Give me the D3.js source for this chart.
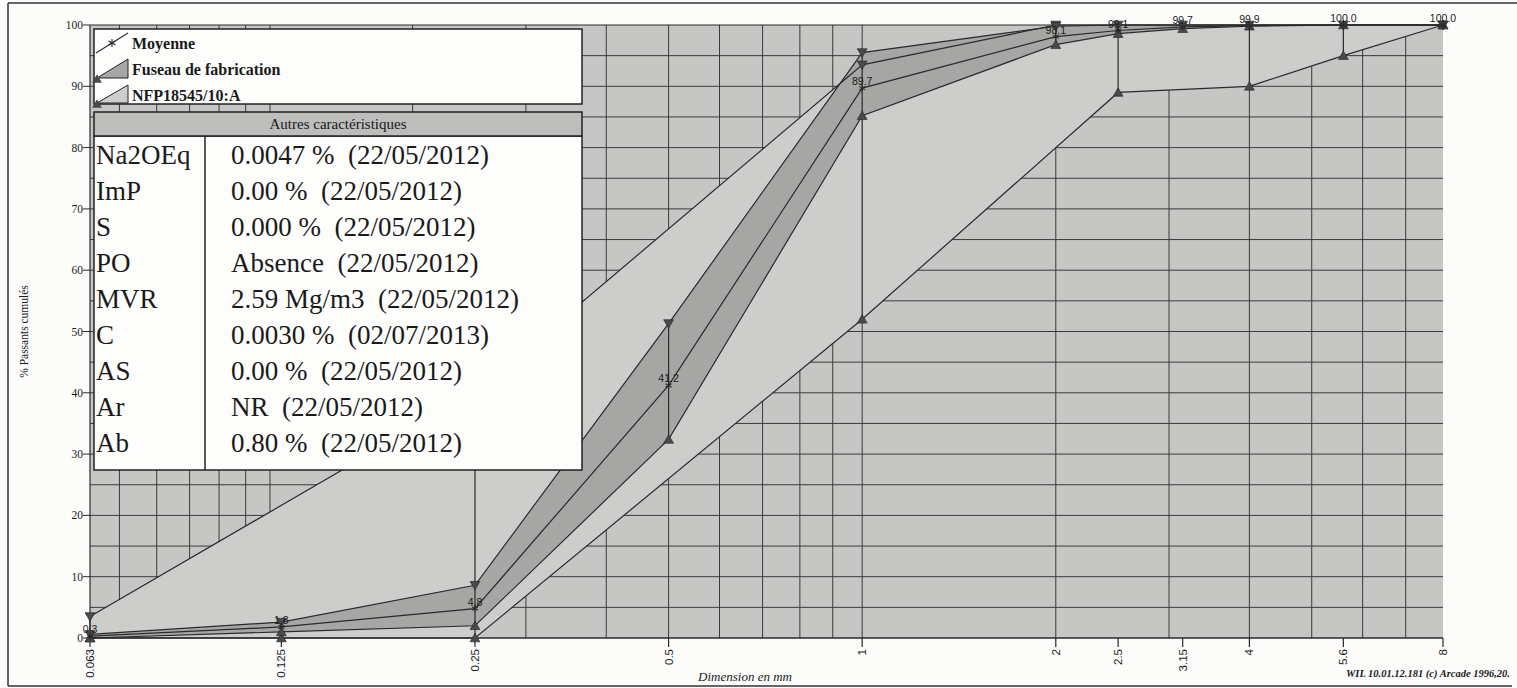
<!DOCTYPE html>
<html>
<head>
<meta charset="utf-8">
<script src="https://cdn.jsdelivr.net/npm/d3@7/dist/d3.min.js"></script>
<style>
  html, body { margin: 0; padding: 0; background: #fcfcfb; }
  svg { display: block; }
  text { font-family: "Liberation Serif", "Times New Roman", serif; fill: #1a1a1a; }
  .sans { font-family: "Liberation Sans", Arial, sans-serif; }
</style>
</head>
<body>
<svg id="chart" width="1517" height="688"></svg>
<script>
// tamis (mm) et % passants cumulés
var sieves = [0.063, 0.125, 0.25, 0.5, 1, 2, 2.5, 3.15, 4, 5.6, 8];
var moyenne = [0.3, 1.8, 4.8, 41.2, 89.7, 98.1, 99.1, 99.7, 99.9, 100.0, 100.0];
var fuseauMax = [0.6, 2.6, 8.6, 51.3, 95.5, 99.8, 100, 100, 100, 100, 100];
var fuseauMin = [0, 1.0, 2.0, 32.4, 85.2, 96.8, 98.6, 99.4, 99.8, 100, 100];

// fuseau NFP18545/10:A
var nfpMaxSizes = [0.063, 0.25, 1, 2, 8];
var nfpMax = [3.5, 40, 93.5, 100, 100];
var nfpMinSizes = [0.063, 0.125, 0.25, 1, 2.5, 4, 5.6, 8];
var nfpMin = [0, 0, 0, 52, 89, 90, 95, 100];

var xTicks = [0.063, 0.125, 0.25, 0.5, 1, 2, 2.5, 3.15, 4, 5.6, 8];
var xTickLabels = ['0.063', '0.125', '0.25', '0.5', '1', '2', '2.5', '3.15', '4', '5.6', '8'];
var gridX = [0.07, 0.08, 0.09, 0.1, 0.11, 0.12, 0.2, 0.3, 0.4, 0.5, 0.6, 0.7, 0.8, 0.9, 1, 2, 3, 4, 5, 6, 7];
var yTicks = [0, 10, 20, 30, 40, 50, 60, 70, 80, 90, 100];
var gridY = [5, 10, 15, 20, 25, 30, 35, 40, 45, 50, 55, 60, 65, 70, 75, 80, 85, 90, 95];

var legendLabels = ['Moyenne', 'Fuseau de fabrication', 'NFP18545/10:A'];
var caracTitle = 'Autres caractéristiques';
var caracNames = ['Na2OEq', 'ImP', 'S', 'PO', 'MVR', 'C', 'AS', 'Ar', 'Ab'];
var caracValues = [
  '0.0047 %  (22/05/2012)',
  '0.00 %  (22/05/2012)',
  '0.000 %  (22/05/2012)',
  'Absence  (22/05/2012)',
  '2.59 Mg/m3  (22/05/2012)',
  '0.0030 %  (02/07/2013)',
  '0.00 %  (22/05/2012)',
  'NR  (22/05/2012)',
  '0.80 %  (22/05/2012)'
];

var COLORS = {
  plotBg: '#c6c6c4',
  nfp: '#cdcdcb',
  fuseau: '#a6a6a4',
  line: '#2a2a2a',
  grid: '#3a3a3a',
  marker: '#4a4a4a',
  header: '#bdbdbb'
};

var svg = d3.select('#chart');
var x = d3.scaleLog().domain([0.063, 8]).range([90, 1443]);
var y = d3.scaleLinear().domain([0, 100]).range([638, 25]);

// cadre de la page
svg.append('line').attr('x1', 8).attr('x2', 1517).attr('y1', 3).attr('y2', 3).attr('stroke', '#333').attr('stroke-width', 1.5);
svg.append('line').attr('x1', 8).attr('x2', 8).attr('y1', 3).attr('y2', 686).attr('stroke', '#333').attr('stroke-width', 1.5);
svg.append('line').attr('x1', 8).attr('x2', 1512).attr('y1', 686).attr('y2', 686).attr('stroke', '#333').attr('stroke-width', 1.5);

// fond + grille
svg.append('rect')
  .attr('x', x(0.063)).attr('y', y(100))
  .attr('width', x(8) - x(0.063)).attr('height', y(0) - y(100))
  .attr('fill', COLORS.plotBg);

svg.append('g').selectAll('line').data(gridY).enter().append('line')
  .attr('x1', x(0.063)).attr('x2', x(8))
  .attr('y1', function (d) { return y(d); }).attr('y2', function (d) { return y(d); })
  .attr('stroke', COLORS.grid).attr('stroke-width', 1);

svg.append('g').selectAll('line').data(gridX).enter().append('line')
  .attr('x1', function (d) { return x(d); }).attr('x2', function (d) { return x(d); })
  .attr('y1', y(0)).attr('y2', y(100))
  .attr('stroke', COLORS.grid).attr('stroke-width', 1);

// bandes
function pts(sizes, vals) {
  return sizes.map(function (s, i) { return [x(s), y(vals[i])]; });
}
var nfpUpper = pts(nfpMaxSizes, nfpMax);
var nfpLower = pts(nfpMinSizes, nfpMin);
var fusUpper = pts(sieves, fuseauMax);
var fusLower = pts(sieves, fuseauMin);
var moyPts = pts(sieves, moyenne);

var area = d3.line();
svg.append('path').attr('d', area(nfpUpper.concat(nfpLower.slice().reverse())) + 'Z')
  .attr('fill', COLORS.nfp).attr('stroke', 'none');
svg.append('path').attr('d', area(fusUpper.concat(fusLower.slice().reverse())) + 'Z')
  .attr('fill', COLORS.fuseau).attr('stroke', 'none');

[nfpUpper, nfpLower, fusUpper, fusLower, moyPts].forEach(function (p) {
  svg.append('path').attr('d', area(p)).attr('fill', 'none')
    .attr('stroke', COLORS.line).attr('stroke-width', 1.2);
});

// axe y
svg.append('line').attr('x1', x(0.063)).attr('x2', x(0.063)).attr('y1', y(0)).attr('y2', y(100))
  .attr('stroke', COLORS.line).attr('stroke-width', 1.2);
svg.append('line').attr('x1', x(0.063)).attr('x2', x(8)).attr('y1', y(100)).attr('y2', y(100))
  .attr('stroke', COLORS.line).attr('stroke-width', 1.2);
var yAxis = svg.append('g');
yAxis.selectAll('line').data(yTicks).enter().append('line')
  .attr('x1', x(0.063) - 7).attr('x2', x(0.063))
  .attr('y1', function (d) { return y(d); }).attr('y2', function (d) { return y(d); })
  .attr('stroke', COLORS.line);
yAxis.selectAll('text').data(yTicks).enter().append('text')
  .attr('x', x(0.063) - 7).attr('y', function (d) { return y(d); })
  .attr('dy', '0.35em').attr('text-anchor', 'end')
  .style('font-size', '11.5px')
  .text(function (d) { return d; });
svg.append('text')
  .attr('transform', 'translate(24,' + y(50) + ') rotate(-90)')
  .attr('text-anchor', 'middle').attr('dy', '0.35em')
  .style('font-size', '11.5px')
  .text('% Passants cumulés');

// axe x
svg.append('line').attr('x1', x(0.063)).attr('x2', x(8)).attr('y1', y(0)).attr('y2', y(0))
  .attr('stroke', COLORS.line).attr('stroke-width', 1.5);
var xAxis = svg.append('g');
xAxis.selectAll('line').data(xTicks).enter().append('line')
  .attr('x1', function (d) { return x(d); }).attr('x2', function (d) { return x(d); })
  .attr('y1', y(0)).attr('y2', y(0) + 9)
  .attr('stroke', COLORS.line).attr('stroke-width', 1.2);
xAxis.selectAll('text').data(xTicks).enter().append('text')
  .attr('class', 'sans')
  .attr('transform', function (d) { return 'translate(' + x(d) + ',' + (y(0) + 11) + ') rotate(-90)'; })
  .attr('text-anchor', 'end').attr('dy', '0.35em')
  .style('font-size', '11.5px')
  .text(function (d, i) { return xTickLabels[i]; });
svg.append('text')
  .attr('x', 745).attr('y', 681).attr('text-anchor', 'middle')
  .style('font-size', '13px').style('font-style', 'italic')
  .text('Dimension en mm');
svg.append('text')
  .attr('x', 1510).attr('y', 677).attr('text-anchor', 'end')
  .style('font-size', '10.5px').style('font-style', 'italic').style('font-weight', 'bold')
  .text('WIL 10.01.12.181 (c) Arcade 1996,20.');

// barres verticales min/max par tamis
var spans = {};
function addSpan(sizes, vals, isMax) {
  sizes.forEach(function (s, i) {
    var o = spans[s] || (spans[s] = { size: s, top: null, bottom: null });
    if (isMax) o.top = o.top === null ? vals[i] : Math.max(o.top, vals[i]);
    else o.bottom = o.bottom === null ? vals[i] : Math.min(o.bottom, vals[i]);
  });
}
addSpan(sieves, fuseauMax, true);
addSpan(nfpMaxSizes, nfpMax, true);
addSpan(sieves, fuseauMin, false);
addSpan(nfpMinSizes, nfpMin, false);
var spanList = Object.keys(spans).map(function (k) { return spans[k]; });
svg.append('g').selectAll('line').data(spanList).enter().append('line')
  .attr('x1', function (d) { return x(d.size); }).attr('x2', function (d) { return x(d.size); })
  .attr('y1', function (d) { return y(d.top); }).attr('y2', function (d) { return y(d.bottom); })
  .attr('stroke', COLORS.line).attr('stroke-width', 1.2);

// marqueurs
var tri = d3.symbol().type(d3.symbolTriangle).size(42);
function triangles(sizes, vals, down) {
  svg.append('g').selectAll('path').data(sizes).enter().append('path')
    .attr('d', tri)
    .attr('transform', function (d, i) {
      var yy = y(vals[i]) + (down ? -1 : 1);
      return 'translate(' + x(d) + ',' + yy + ')' + (down ? ' rotate(180)' : '');
    })
    .attr('fill', COLORS.marker).attr('stroke', '#222').attr('stroke-width', 0.6);
}
triangles(nfpMinSizes, nfpMin, false);
triangles(sieves, fuseauMin, false);
triangles(nfpMaxSizes, nfpMax, true);
triangles(sieves, fuseauMax, true);

function star(g, cx, cy, r) {
  [0, 60, 120].forEach(function (deg) {
    var rad = deg * Math.PI / 180;
    g.append('line')
      .attr('x1', cx - r * Math.sin(rad)).attr('y1', cy - r * Math.cos(rad))
      .attr('x2', cx + r * Math.sin(rad)).attr('y2', cy + r * Math.cos(rad))
      .attr('stroke', COLORS.line).attr('stroke-width', 1.1);
  });
}
var starG = svg.append('g');
moyPts.forEach(function (p) { star(starG, p[0], p[1], 3.5); });

svg.append('g').selectAll('text').data(sieves).enter().append('text')
  .attr('class', 'sans')
  .attr('x', function (d) { return x(d); })
  .attr('y', function (d, i) { return y(moyenne[i]) - 3; })
  .attr('text-anchor', 'middle')
  .style('font-size', '10.5px')
  .text(function (d, i) { return d3.format('.1f')(moyenne[i]); });

// légende
var lg = svg.append('g');
lg.append('rect').attr('x', 94).attr('y', 29).attr('width', 488).attr('height', 75)
  .attr('fill', '#fdfdfc').attr('stroke', '#222').attr('stroke-width', 1.5);
lg.append('line').attr('x1', 96).attr('y1', 53).attr('x2', 128).attr('y2', 33)
  .attr('stroke', COLORS.line).attr('stroke-width', 1.1);
star(lg, 112, 43, 4);
lg.append('path').attr('d', 'M97,78L128,59L128,78Z')
  .attr('fill', COLORS.fuseau).attr('stroke', '#222').attr('stroke-width', 1);
lg.append('path').attr('d', 'M97,103L128,85L128,103Z')
  .attr('fill', COLORS.nfp).attr('stroke', '#222').attr('stroke-width', 1);
lg.append('path').attr('d', tri).attr('transform', 'translate(97,80)')
  .attr('fill', COLORS.marker);
lg.append('path').attr('d', tri).attr('transform', 'translate(97,105)')
  .attr('fill', COLORS.marker);
lg.selectAll('text.lab').data(legendLabels).enter().append('text')
  .attr('class', 'lab')
  .attr('x', 132).attr('y', function (d, i) { return 43 + i * 26; })
  .attr('dy', '0.35em')
  .style('font-size', '16px').style('font-weight', 'bold')
  .text(function (d) { return d; });

// tableau des autres caractéristiques
var tb = svg.append('g');
tb.append('rect').attr('x', 94).attr('y', 136).attr('width', 488).attr('height', 334)
  .attr('fill', '#fdfdfc').attr('stroke', '#222').attr('stroke-width', 1.5);
tb.append('rect').attr('x', 94).attr('y', 112).attr('width', 488).attr('height', 24)
  .attr('fill', COLORS.header).attr('stroke', '#222').attr('stroke-width', 1.5);
tb.append('text').attr('x', 338).attr('y', 124).attr('dy', '0.35em')
  .attr('text-anchor', 'middle').style('font-size', '15px')
  .text(caracTitle);
tb.append('line').attr('x1', 205).attr('x2', 205).attr('y1', 136).attr('y2', 470)
  .attr('stroke', '#222').attr('stroke-width', 1.5);
tb.selectAll('text.nm').data(caracNames).enter().append('text')
  .attr('class', 'nm')
  .attr('x', 96).attr('y', function (d, i) { return 155 + i * 36; })
  .attr('dy', '0.35em').style('font-size', '27px')
  .text(function (d) { return d; });
tb.selectAll('text.val').data(caracValues).enter().append('text')
  .attr('class', 'val')
  .attr('x', 231).attr('y', function (d, i) { return 155 + i * 36; })
  .attr('dy', '0.35em').style('font-size', '27px').style('white-space', 'pre')
  .text(function (d) { return d; });
</script>
</body>
</html>
